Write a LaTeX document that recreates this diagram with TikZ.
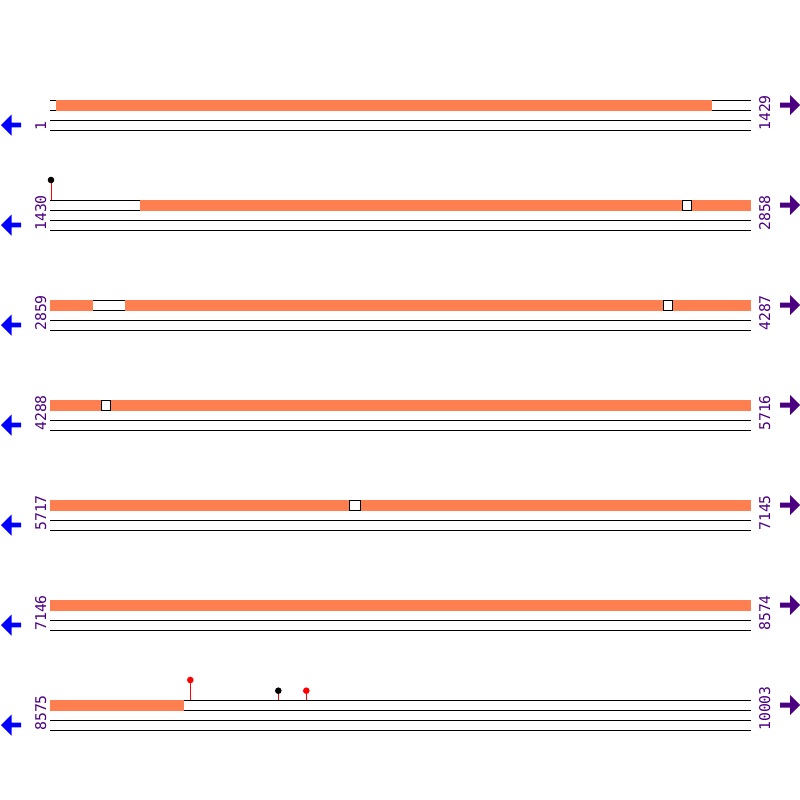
\documentclass[tikz,border=0pt]{standalone}
\usepackage{fontspec}
\newfontfamily\monof{DejaVu Sans Mono}
\definecolor{barc}{RGB}{255,127,80}
\definecolor{labc}{RGB}{75,0,130}
\begin{document}
\begin{tikzpicture}[x=1pt,y=1pt,
  trackline/.style={black,line width=1pt},
  bar/.style={fill=barc,draw=none},
  gapbox/.style={fill=white,draw=black,line width=0.7pt},
  lab/.style={font=\monof\fontsize{14.8}{14.8}\selectfont,text=labc,rotate=90,inner sep=0pt,anchor=base west},
  stem/.style={red,line width=1pt},
  larrow/.style={fill=blue,draw=none},
  rarrow/.style={fill=labc,draw=none}]
\useasboundingbox (0,0) rectangle (800,-800);
% rows
\foreach \r/\ls/\rs in {1/1/1429,2/1430/2858,3/2859/4287,4/4288/5716,5/5717/7145,6/7146/8574,7/8575/10003}{
  \pgfmathsetmacro{\yo}{-100*\r}
  \foreach \k in {0,10,20,30}{
    \draw[trackline] (50,\yo-\k) -- (751,\yo-\k);
  }
  \node[lab,text opacity=1] (L\r) at (46,\yo-31) {\ls};
  \node[lab] (R\r) at (770,\yo-31) {\rs};
  \fill[larrow] (1,\yo-25) -- (11.5,\yo-14.5) -- (11.5,\yo-22.7) -- (21,\yo-22.7) -- (21,\yo-27.3) -- (11.5,\yo-27.3) -- (11.5,\yo-35.5) -- cycle;
  \fill[rarrow] (800,\yo-5) -- (790,\yo+5) -- (790,\yo-2.5) -- (780,\yo-2.5) -- (780,\yo-7.5) -- (790,\yo-7.5) -- (790,\yo-15) -- cycle;
}
% orange bars
\fill[bar] (56,-99.5) rectangle (712,-110.5);
\fill[bar] (140,-199.5) rectangle (682,-210.5);
\fill[bar] (691,-199.5) rectangle (751,-210.5);
\draw[gapbox] (682,-200) rectangle (691,-210);
\fill[bar] (50,-299.5) rectangle (93,-310.5);
\fill[bar] (125,-299.5) rectangle (663,-310.5);
\fill[bar] (672,-299.5) rectangle (751,-310.5);
\draw[gapbox] (663,-300) rectangle (672,-310);
\fill[bar] (50,-399.5) rectangle (101.5,-410.5);
\fill[bar] (110,-399.5) rectangle (751,-410.5);
\draw[gapbox] (101.5,-400) rectangle (110,-410);
\fill[bar] (50,-499.5) rectangle (349,-510.5);
\fill[bar] (360,-499.5) rectangle (751,-510.5);
\draw[gapbox] (349,-500) rectangle (360,-510);
\fill[bar] (50,-599.5) rectangle (751,-610.5);
\fill[bar] (50,-699.5) rectangle (184,-710.5);
% lollipops
\draw[stem] (51,-200) -- (51,-180);
\fill[black] (51,-180) circle (3.3);
\draw[stem] (190.3,-700) -- (190.3,-680);
\fill[red] (190.3,-680) circle (3.3);
\draw[stem] (278.3,-700) -- (278.3,-690.7);
\fill[black] (278.3,-690.7) circle (3.3);
\draw[stem] (306.3,-700) -- (306.3,-690.7);
\fill[red] (306.3,-690.7) circle (3.3);
\end{tikzpicture}
\end{document}
